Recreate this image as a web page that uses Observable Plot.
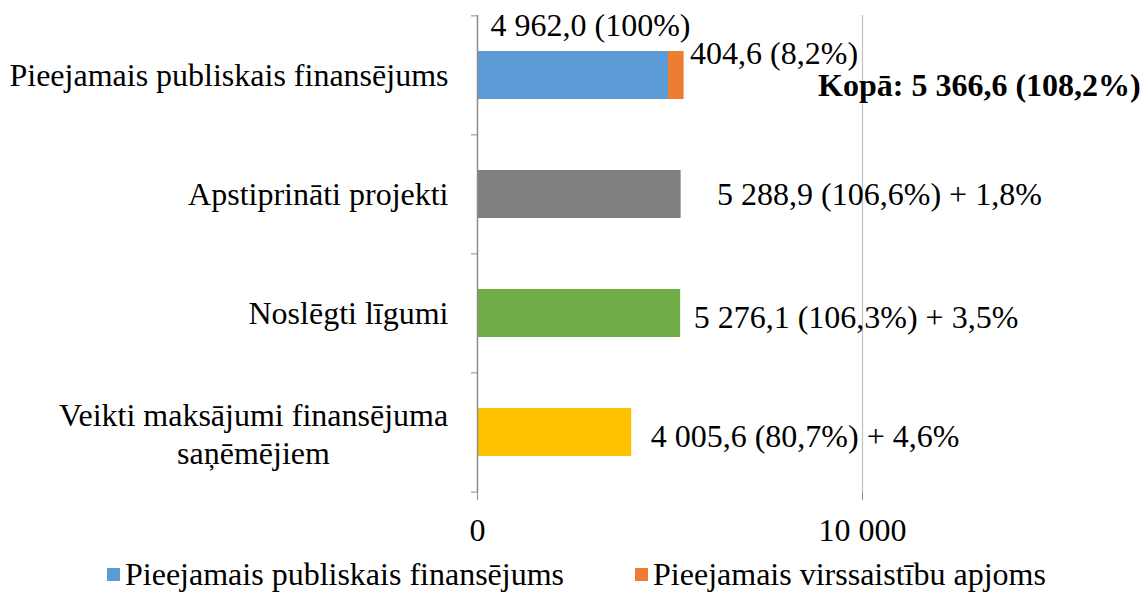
<!DOCTYPE html>
<html><head><meta charset="utf-8">
<script src="https://cdn.jsdelivr.net/npm/d3@7"></script>
<script src="https://cdn.jsdelivr.net/npm/@observablehq/plot@0.6"></script>
<style>
body{margin:0;background:#fff;font-family:"Liberation Serif","Times New Roman",serif;}
#legend{display:flex;align-items:center;font-size:32px;line-height:1.1;height:35px;padding-top:2px;padding-left:107px;white-space:nowrap;}
.item{display:flex;align-items:center;}
.sw{width:13px;height:13px;margin-right:5px;}
</style></head><body><div id="chart"></div><div id="legend"></div>
<script>
const categories = ["Pieejamais publiskais finansējums", "Apstiprināti projekti", "Noslēgti līgumi", "Veikti maksājumi finansējuma\nsaņēmējiem"];
const seriesNames = ["Pieejamais publiskais finansējums", "Pieejamais virssaistību apjoms", "Apstiprināti projekti", "Noslēgti līgumi", "Veikti maksājumi finansējuma saņēmējiem"];
const seriesColors = ["#5b9bd5", "#ed7d31", "#7f7f7f", "#70ad47", "#ffc000"];
const baseValues = [4962.0, 5288.9, 5276.1, 4005.6];
const overcommitValue = 404.6;
const valueLabels = ["4 962,0 (100%)", "5 288,9 (106,6%) + 1,8%", "5 276,1 (106,3%) + 3,5%", "4 005,6 (80,7%) + 4,6%"];
const overcommitLabel = "404,6 (8,2%)";
const totalLabel = "Kopā: 5 366,6 (108,2%)";
const legendNames = ["Pieejamais publiskais finansējums", "Pieejamais virssaistību apjoms"];
const xTicks = [0, 10000];

const rows = categories.map((c, i) => ({cat: c, series: i === 0 ? seriesNames[0] : seriesNames[i + 1], value: baseValues[i]}));
rows.splice(1, 0, {cat: categories[0], series: seriesNames[1], value: overcommitValue});
const total = baseValues[0] + overcommitValue;
const lower = categories.slice(1).map((c, i) => ({cat: c, value: baseValues[i + 1], label: valueLabels[i + 1]}));

const FONT = "Liberation Serif";
const FS = 32;
const step = 477 / 4;
const lowerDx = [36, 13, 19];
const lowerDy = [0, 4, 4];

const plot = Plot.plot({
  width: 1142,
  height: 555,
  marginLeft: 477,
  marginRight: 280,
  marginTop: 15,
  marginBottom: 63,
  style: {fontFamily: FONT, fontSize: FS + "px", color: "#000", background: "#fff"},
  x: {domain: [0, 10000], label: null},
  y: {domain: categories, paddingInner: 0.6, paddingOuter: 0.3, label: null},
  color: {domain: seriesNames, range: seriesColors},
  marks: [
    Plot.ruleX([10000], {stroke: "#bfbfbf", strokeWidth: 1.2}),
    Plot.barX(rows, Plot.stackX({x: "value", y: "cat", fill: "series", order: null})),
    Plot.ruleX([0], {stroke: "#8c8c8c", strokeWidth: 1.5}),
    Plot.axisX({ticks: xTicks, tickSize: 8, tickPadding: 18, stroke: "#8c8c8c", fill: "#000", fontSize: FS, fontFamily: FONT,
      tickFormat: d => d3.format(",")(d).replace(/,/g, " ")}),
    Plot.axisY({ticks: categories.slice(0, 3), tickSize: 0, tickPadding: 29, fill: "#000", fontSize: FS, fontFamily: FONT}),
    Plot.axisY({ticks: [categories[3]], tickSize: 0, tickPadding: 29, textAnchor: "middle", dx: -195, lineHeight: 1.2, fill: "#000", fontSize: FS, fontFamily: FONT}),
    Plot.axisY({ticks: categories, tickSize: 6, tickFormat: () => "", stroke: "#8c8c8c", dy: -step / 2}),
    Plot.axisY({ticks: [categories[3]], tickSize: 6, tickFormat: () => "", stroke: "#8c8c8c", dy: step / 2}),
    Plot.text([{cat: categories[0], value: 0}], {x: "value", y: "cat", text: () => valueLabels[0], textAnchor: "start", dx: 13, dy: -50, fontSize: FS, fontFamily: FONT, fill: "#000"}),
    Plot.text([{cat: categories[0], value: total}], {x: "value", y: "cat", text: () => overcommitLabel, textAnchor: "start", dx: 6, dy: -22, fontSize: FS, fontFamily: FONT, fill: "#000"}),
    Plot.text([{cat: categories[0], value: total}], {x: "value", y: "cat", text: () => totalLabel, textAnchor: "start", dx: 134, dy: 10, fontSize: FS, fontFamily: FONT, fontWeight: "bold", fill: "#000"}),
    ...lower.map((d, i) => Plot.text([d], {x: "value", y: "cat", text: "label", textAnchor: "start", dx: lowerDx[i], dy: lowerDy[i], fontSize: FS, fontFamily: FONT, fill: "#000"}))
  ]
});
document.getElementById("chart").appendChild(plot);

const legend = document.getElementById("legend");
legendNames.forEach((n, i) => {
  const it = document.createElement("div");
  it.className = "item";
  if (i > 0) it.style.marginLeft = "71px";
  const sw = document.createElement("span");
  sw.className = "sw";
  sw.style.background = seriesColors[seriesNames.indexOf(n)];
  const t = document.createElement("span");
  t.textContent = n;
  it.appendChild(sw); it.appendChild(t);
  legend.appendChild(it);
});
</script></body></html>
